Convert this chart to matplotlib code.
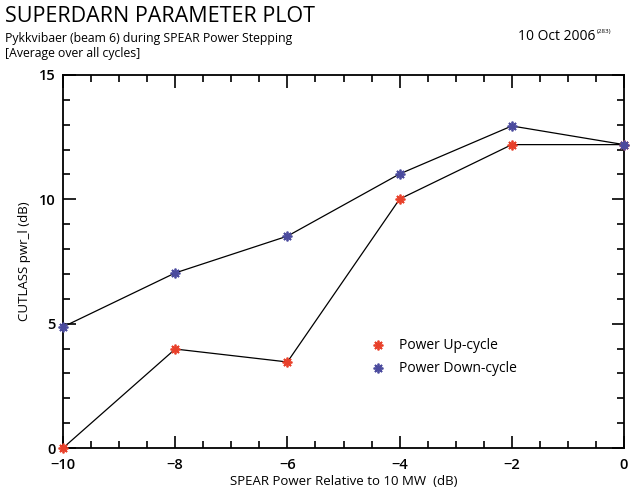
import matplotlib
matplotlib.use("Agg")
import matplotlib.pyplot as plt
from matplotlib.ticker import MultipleLocator

plt.rcParams['font.family'] = ['Open Sans', 'DejaVu Sans']

# SPEAR power relative to 10 MW (dB)
power_db = [-10, -8, -6, -4, -2, 0]
up_cycle = [0.0, 3.98, 3.46, 10.01, 12.2, 12.2]
down_cycle = [4.87, 7.04, 8.52, 11.02, 12.95, 12.2]

red = '#e8402a'
blue = '#4b4b9e'
star = (8, 2, 0)
ms, mew = 7, 1.3

fig = plt.figure(figsize=(6.3, 4.94), dpi=100)
ax = fig.add_axes([0.1, 0.0931, 0.8905, 0.7551])

ax.plot(power_db, up_cycle, color='black', lw=0.9, zorder=2, clip_on=False)
ax.plot(power_db, down_cycle, color='black', lw=0.9, zorder=2, clip_on=False)
ax.plot(power_db, up_cycle, ls='none', marker=star, ms=ms, mew=mew, color=red,
        zorder=3, clip_on=False)
ax.plot(power_db, down_cycle, ls='none', marker=star, ms=ms, mew=mew, color=blue,
        zorder=3, clip_on=False)

ax.set_xlim(-10, 0)
ax.set_ylim(0, 15)
ax.xaxis.set_major_locator(MultipleLocator(2))
ax.xaxis.set_minor_locator(MultipleLocator(0.5))
ax.yaxis.set_major_locator(MultipleLocator(5))
ax.yaxis.set_minor_locator(MultipleLocator(1))
ax.tick_params(which='both', direction='in', top=True, right=True, width=1.2)
ax.tick_params(which='major', length=9, labelsize=10.5)
ax.tick_params(axis='x', which='major', pad=7)
ax.tick_params(axis='y', which='major', pad=5)
ax.tick_params(which='minor', length=5)
for lab in ax.get_xticklabels() + ax.get_yticklabels():
    lab.set_fontweight('semibold')
for s in ax.spines.values():
    s.set_linewidth(1.3)

ax.set_xlabel('SPEAR Power Relative to 10 MW  (dB)', fontsize=9.5, labelpad=2)
ax.set_ylabel('CUTLASS pwr_l (dB)', fontsize=9.5, labelpad=6)

# legend
ax.plot([0.561], [0.276], transform=ax.transAxes, marker=star, ms=ms, mew=mew,
        color=red, ls='none', clip_on=False)
ax.text(0.599, 0.276, 'Power Up-cycle', transform=ax.transAxes, fontsize=10,
        va='center')
ax.plot([0.561], [0.214], transform=ax.transAxes, marker=star, ms=ms, mew=mew,
        color=blue, ls='none', clip_on=False)
ax.text(0.599, 0.214, 'Power Down-cycle', transform=ax.transAxes, fontsize=10,
        va='center')

fig.text(0.008, 0.966, 'SUPERDARN PARAMETER PLOT', fontsize=15.5, va='center')
fig.text(0.008, 0.922, 'Pykkvibaer (beam 6) during SPEAR Power Stepping',
         fontsize=8.8, va='center')
fig.text(0.008, 0.892, '[Average over all cycles]', fontsize=8.8, va='center')
fig.text(0.945, 0.927, '10 Oct 2006', fontsize=10, va='center', ha='right')
fig.text(0.947, 0.936, '(283)', fontsize=4.5, va='center', ha='left')

fig.savefig('out.png', dpi=100)
